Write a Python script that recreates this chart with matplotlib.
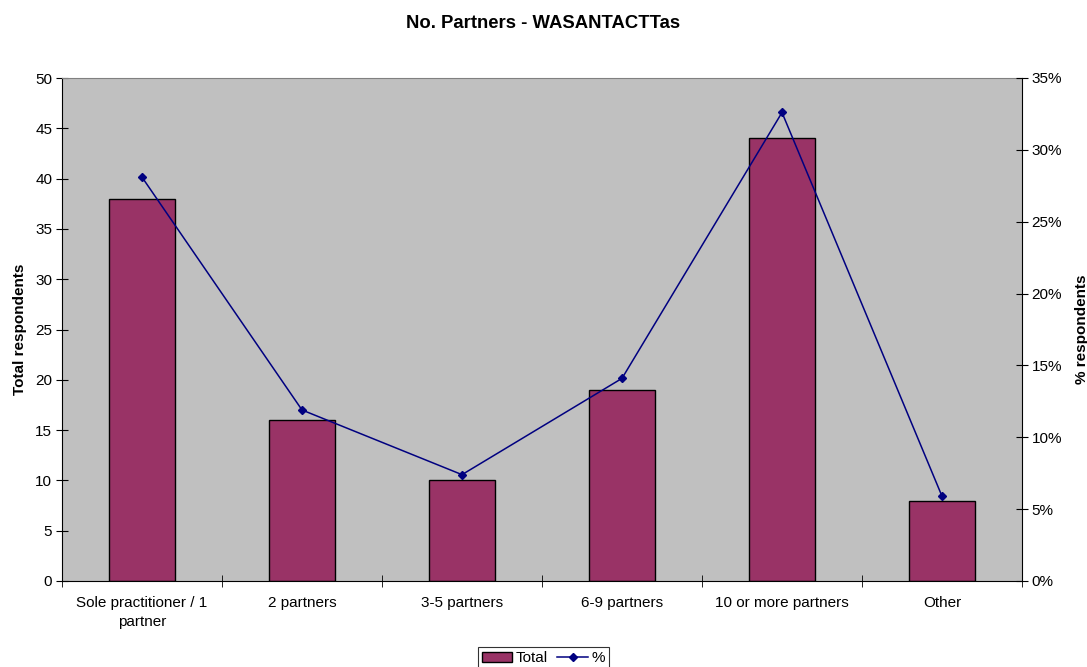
import matplotlib
matplotlib.use("Agg")
import matplotlib.pyplot as plt
from matplotlib.ticker import FuncFormatter, MultipleLocator, FixedLocator

plt.rcParams["font.family"] = ["Liberation Sans", "DejaVu Sans"]

categories = ["Sole practitioner / 1\npartner", "2 partners", "3-5 partners",
              "6-9 partners", "10 or more partners", "Other"]
totals = [38, 16, 10, 19, 44, 8]
percents = [28.1, 11.9, 7.4, 14.1, 32.6, 5.9]

fig = plt.figure(figsize=(10.87, 6.67), dpi=100)
ax = fig.add_axes([62 / 1087, 1 - 581 / 667, 960 / 1087, 503 / 667])
ax.set_facecolor("#c0c0c0")

x = list(range(len(categories)))
bars = ax.bar(x, totals, width=0.41, color="#993366", edgecolor="black",
              linewidth=1, label="Total", zorder=2)
ax.set_xlim(-0.5, len(categories) - 0.5)
ax.set_ylim(0, 50)
ax.yaxis.set_major_locator(MultipleLocator(5))
ax.set_xticks(x)
ax.set_xticklabels(categories, fontsize=11, linespacing=1.4)
ax.xaxis.set_minor_locator(FixedLocator([i + 0.5 for i in range(-1, len(categories))]))
ax.tick_params(axis="x", which="major", length=0, pad=11)
ax.tick_params(axis="x", which="minor", length=8, direction="inout")
ax.tick_params(axis="y", length=8, direction="inout", labelsize=11, pad=3)
ax.set_ylabel("Total respondents", fontsize=11, fontweight="bold", labelpad=6)
ax.spines["top"].set_color("#808080")
ax.spines["right"].set_visible(False)

ax2 = ax.twinx()
line, = ax2.plot(x, [p / 100 for p in percents], color="#000080", marker="D",
                 markersize=4.5, linewidth=1.1, label="%", zorder=3)
ax2.set_ylim(0, 0.35)
ax2.yaxis.set_major_locator(MultipleLocator(0.05))
ax2.yaxis.set_major_formatter(FuncFormatter(lambda v, p: f"{v * 100:.0f}%"))
ax2.tick_params(axis="y", length=8, direction="inout", labelsize=11, pad=3)
ax2.set_ylabel("% respondents", fontsize=11, fontweight="bold", labelpad=9)
for s in ["top", "left", "bottom"]:
    ax2.spines[s].set_visible(False)

fig.suptitle("No. Partners - WASANTACTTas", fontsize=13.3, fontweight="bold", y=0.977)

leg = fig.legend([bars, line], ["Total", "%"], loc="lower center",
                 bbox_to_anchor=(0.5, -0.01), ncol=2, fontsize=11,
                 frameon=True, fancybox=False, edgecolor="black",
                 handlelength=2.0, handletextpad=0.25, columnspacing=0.6,
                 borderpad=0.25, borderaxespad=0.3)
leg.get_frame().set_linewidth(0.8)

fig.savefig("out.png", dpi=100)
